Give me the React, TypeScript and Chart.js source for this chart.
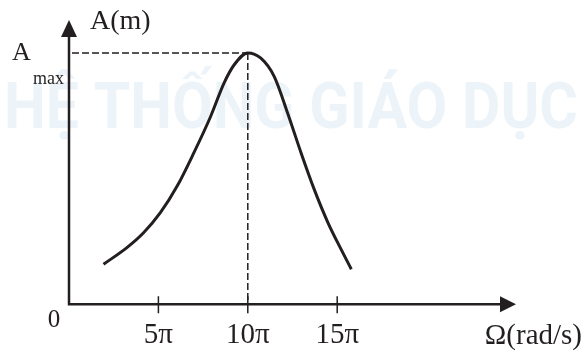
import React, { useEffect, useRef } from "react";
import { Chart, registerables } from "chart.js";

Chart.register(...registerables);

// Ω in units of π (rad/s)
const omega = [1.93, 3.24, 4.17, 5.11, 6.05, 6.98, 7.92, 8.67, 9.23, 10, 10.73, 11.48, 12.23, 12.98, 13.72, 14.48, 15.22, 15.79];
// Amplitude as a fraction of A_max
const amplitude = [0.159, 0.225, 0.284, 0.364, 0.47, 0.602, 0.747, 0.88, 0.952, 1.0, 0.979, 0.906, 0.76, 0.602, 0.456, 0.325, 0.218, 0.139];
const xTicks = [5, 10, 15];
const xTickLabel = (v: number) => `${v}π`;
const peakOmega = 10;
const peakAmp = 1;
const yAxisTitle = "A(m)";
const xAxisTitle = "Ω(rad/s)";
const ampMaxLabel = "A";
const ampMaxSub = "max";
const originLabel = "0";
const watermark = "HỆ THỐNG GIÁO DỤC";

const INK = "#231f20";
const SERIF = '"Liberation Serif", "Times New Roman", serif';

const overlay = {
  id: "overlay",
  beforeDraw(chart: any) {
    const { ctx, width, height } = chart;
    ctx.save();
    ctx.fillStyle = "#ffffff";
    ctx.fillRect(0, 0, width, height);
    ctx.fillStyle = "#ecf4f9";
    ctx.font = 'bold 64px "Roboto", "Noto Sans", sans-serif';
    ctx.textBaseline = "alphabetic";
    ctx.textAlign = "left";
    ctx.fillText(watermark, 4, 128, 574);
    ctx.restore();
  },
  afterDraw(chart: any) {
    const { ctx, chartArea, scales } = chart;
    const xs = scales.x;
    const ys = scales.y;
    const x0 = xs.getPixelForValue(0);
    const y0 = ys.getPixelForValue(0);
    const xEnd = chartArea.right;
    const yTop = chartArea.top;
    ctx.save();
    ctx.strokeStyle = INK;
    ctx.fillStyle = INK;

    // dashed guides
    const px = xs.getPixelForValue(peakOmega);
    const py = ys.getPixelForValue(peakAmp);
    ctx.lineWidth = 1.5;
    ctx.setLineDash([7, 3]);
    ctx.beginPath();
    ctx.moveTo(x0 + 3, py);
    ctx.lineTo(px, py);
    ctx.moveTo(px, py);
    ctx.lineTo(px, y0);
    ctx.stroke();
    ctx.setLineDash([]);

    // axes
    ctx.lineWidth = 2.5;
    ctx.beginPath();
    ctx.moveTo(x0, yTop + 12);
    ctx.lineTo(x0, y0);
    ctx.lineTo(xEnd - 12, y0);
    ctx.stroke();
    // arrows
    ctx.beginPath();
    ctx.moveTo(x0, yTop);
    ctx.lineTo(x0 - 8, yTop + 17);
    ctx.lineTo(x0 + 8, yTop + 17);
    ctx.closePath();
    ctx.fill();
    ctx.beginPath();
    ctx.moveTo(xEnd, y0);
    ctx.lineTo(xEnd - 16, y0 - 8);
    ctx.lineTo(xEnd - 16, y0 + 8);
    ctx.closePath();
    ctx.fill();

    // tick marks
    ctx.lineWidth = 1.5;
    ctx.beginPath();
    for (const t of xTicks) {
      const tx = xs.getPixelForValue(t);
      ctx.moveTo(tx, y0 - 8);
      ctx.lineTo(tx, y0 + 9);
    }
    ctx.stroke();

    // labels
    ctx.textBaseline = "alphabetic";
    ctx.textAlign = "left";
    ctx.font = `28px ${SERIF}`;
    ctx.fillText(yAxisTitle, x0 + 21, yTop + 9);
    ctx.font = `26px ${SERIF}`;
    ctx.fillText(ampMaxLabel, 12, py + 7);
    ctx.font = `18px ${SERIF}`;
    ctx.fillText(ampMaxSub, 33, py + 31);
    ctx.font = `25px ${SERIF}`;
    ctx.textAlign = "center";
    ctx.fillText(originLabel, x0 - 15, y0 + 23);
    ctx.font = `29px ${SERIF}`;
    ctx.textAlign = "right";
    ctx.fillText(xAxisTitle, 582, y0 + 40);
    ctx.restore();
  },
};

export default function App() {
  const ref = useRef<HTMLCanvasElement | null>(null);
  useEffect(() => {
    if (!ref.current) return;
    const chart = new Chart(ref.current, {
      type: "line",
      data: {
        datasets: [
          {
            data: omega.map((w, i) => ({ x: w, y: amplitude[i] })),
            borderColor: INK,
            borderWidth: 3,
            pointRadius: 0,
            cubicInterpolationMode: "monotone",
            fill: false,
          },
        ],
      },
      options: {
        responsive: false,
        animation: false,
        events: [],
        layout: { padding: { left: 69, right: 66, top: 20, bottom: -15 } },
        plugins: { legend: { display: false }, tooltip: { enabled: false } },
        scales: {
          x: {
            type: "linear",
            min: 0,
            max: 25,
            grid: { display: false, drawTicks: false },
            border: { display: false },
            afterBuildTicks: (scale: any) => {
              scale.ticks = xTicks.map((v) => ({ value: v }));
            },
            ticks: {
              padding: 14,
              color: INK,
              autoSkip: false,
              maxRotation: 0,
              font: { family: SERIF, size: 29, lineHeight: 1.2 },
              callback: (v: any) => xTickLabel(Number(v)),
            },
          },
          y: {
            display: false,
            min: 0,
            max: 1.131,
          },
        },
      },
      plugins: [overlay],
    });
    return () => chart.destroy();
  }, []);
  return (
    <div style={{ position: "fixed", left: 0, top: 0, width: 582, height: 352 }}>
      <canvas ref={ref} width={582} height={352} />
    </div>
  );
}
